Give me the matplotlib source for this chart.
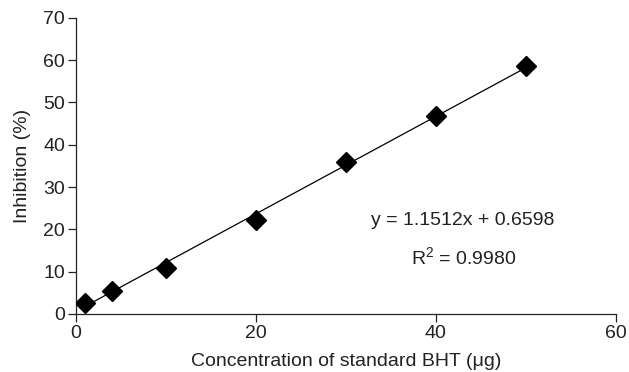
import numpy as np
import matplotlib
matplotlib.use('Agg')
import matplotlib.pyplot as plt

plt.rcParams['font.family'] = ['Liberation Sans', 'DejaVu Sans']
plt.rcParams['mathtext.fontset'] = 'custom'
plt.rcParams['mathtext.rm'] = 'Liberation Sans'
plt.rcParams['mathtext.it'] = 'Liberation Sans:italic'

# BHT standard curve
conc = [1, 4, 10, 20, 30, 40, 50]
inhibition = [2.7, 5.5, 10.8, 22.1, 35.9, 46.8, 58.6]
slope = 1.1512
intercept = 0.6598
r2 = 0.9980
xticks = [0, 20, 40, 60]
yticks = [0, 10, 20, 30, 40, 50, 60, 70]

fig = plt.figure(figsize=(6.29, 3.72), dpi=100)
ax = fig.add_axes([0.121, 0.156, 0.858, 0.796])

txt = '#222222'
fs = 14
xfit = np.array([conc[0], conc[-1]])
ax.plot(xfit, slope * xfit + intercept, color='black', linewidth=0.9, zorder=2)
ax.plot(conc, inhibition, linestyle='none', marker='D', color='black',
        markersize=10, zorder=3)

ax.set_xlim(0, 60)
ax.set_ylim(0, 70)
ax.set_xticks(xticks)
ax.set_yticks(yticks)
ax.spines['top'].set_visible(False)
ax.spines['right'].set_visible(False)
for s in ['left', 'bottom']:
    ax.spines[s].set_color(txt)
    ax.spines[s].set_linewidth(0.9)
ax.tick_params(direction='out', length=6, width=0.9, color=txt,
               labelsize=fs, labelcolor=txt, pad=2)

ax.set_xlabel('Concentration of standard BHT (μg)', fontsize=fs, color=txt, labelpad=8)
ax.set_ylabel('Inhibition (%)', fontsize=fs, color=txt, labelpad=9)

ax.text(43.0, 22.2, 'y = %.4fx + %.4f' % (slope, intercept), ha='center',
        va='center', fontsize=fs, color=txt)
ax.text(43.1, 13.5, 'R$^2$ = %.4f' % r2, ha='center', va='center',
        fontsize=fs, color=txt)

fig.savefig('out.png', dpi=100)
